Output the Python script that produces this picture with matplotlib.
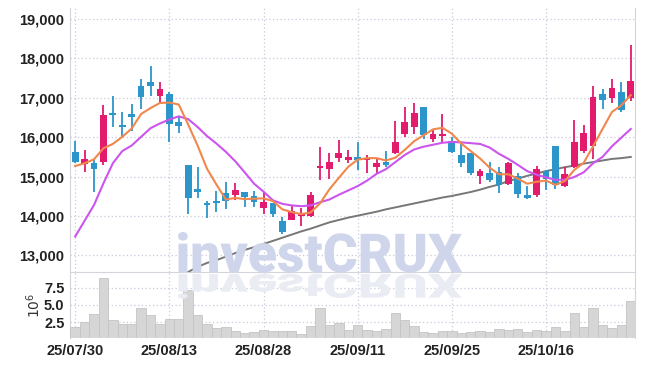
import numpy as np
import matplotlib
matplotlib.use("Agg")
import matplotlib.pyplot as plt
from matplotlib.textpath import TextPath
from matplotlib.patches import PathPatch
from matplotlib.font_manager import FontProperties
from matplotlib.transforms import Affine2D

# daily candles (KRW)
dates = ["25/07/30", "25/07/31", "25/08/01", "25/08/04", "25/08/05", "25/08/06", "25/08/07", "25/08/08",
         "25/08/11", "25/08/12", "25/08/13", "25/08/14", "25/08/18", "25/08/19", "25/08/20", "25/08/21",
         "25/08/22", "25/08/25", "25/08/26", "25/08/27", "25/08/28", "25/08/29", "25/09/01", "25/09/02",
         "25/09/03", "25/09/04", "25/09/05", "25/09/08", "25/09/09", "25/09/10", "25/09/11", "25/09/12",
         "25/09/15", "25/09/16", "25/09/17", "25/09/18", "25/09/19", "25/09/22", "25/09/23", "25/09/24",
         "25/09/25", "25/09/26", "25/09/29", "25/09/30", "25/10/01", "25/10/02", "25/10/10", "25/10/13",
         "25/10/14", "25/10/15", "25/10/16", "25/10/17", "25/10/20", "25/10/21", "25/10/22", "25/10/23",
         "25/10/24", "25/10/27", "25/10/28", "25/10/29"]

opens = [15630, 15330, 15350, 15380, 16620, 16310, 16600, 17300, 17410, 17050,
         17100, 16390, 15290, 14690, 14310, 14350, 14580, 14540, 14610, 14500,
         14210, 14320, 13870, 13910, 14010, 14000, 15220, 15190, 15480, 15420,
         15500, 15420, 15240, 15370, 15590, 16090, 16250, 16770, 15960, 16040,
         15900, 15540, 15590, 15020, 15080, 15110, 14820, 15020, 14530, 14540,
         15140, 15780, 14770, 15240, 15660, 15780, 17100, 17000, 17150, 17000]
highs = [15900, 15680, 15420, 16820, 17050, 16650, 16840, 17470, 17810, 17390,
         17160, 16540, 15300, 15240, 14380, 14640, 14870, 14850, 14620, 14630,
         14600, 14330, 13970, 14280, 14200, 14620, 15760, 15590, 15930, 15680,
         15870, 15550, 15440, 15660, 16420, 16760, 16860, 16780, 16180, 16580,
         16010, 15830, 15600, 15190, 15380, 15250, 15370, 15100, 14760, 15270,
         15170, 15790, 15240, 16440, 16310, 17300, 17220, 17480, 17390, 18340]
lows = [15350, 15110, 14620, 15300, 16270, 16010, 16170, 16720, 17050, 16840,
        15880, 16100, 14040, 14450, 13940, 14110, 14170, 14400, 14220, 14240,
        14050, 13970, 13540, 13890, 13760, 13970, 14910, 14940, 15380, 15340,
        15170, 15100, 15080, 15240, 15570, 16010, 16080, 15950, 15890, 15850,
        15590, 15240, 15040, 14810, 14870, 14580, 14800, 14450, 14420, 14490,
        14660, 14680, 14740, 15230, 15610, 15440, 16710, 16860, 16650, 16920]
closes = [15380, 15450, 15190, 16560, 16570, 16270, 16520, 17030, 17300, 17220,
          16340, 16280, 14470, 14620, 14290, 14330, 14390, 14650, 14480, 14360,
          14350, 14060, 13600, 14140, 14090, 14530, 15250, 15370, 15600, 15500,
          15420, 15470, 15340, 15300, 15880, 16390, 16610, 16060, 16080, 16060,
          15630, 15350, 15100, 15150, 14910, 14790, 15350, 14570, 14470, 15190,
          14940, 14780, 15070, 15880, 16110, 17030, 16940, 17260, 16690, 17430]

# moving averages as drawn
ma5 = [15270, 15340, 15440, 15720, 15830, 16010, 16220, 16590, 16740, 16870,
       16880, 16830, 16320, 15790, 15200, 14800, 14420, 14460, 14430, 14440,
       14450, 14380, 14170, 14100, 14050, 14090, 14320, 14680, 14970, 15250,
       15430, 15470, 15470, 15410, 15480, 15680, 15900, 16050, 16200, 16240,
       16090, 15840, 15650, 15460, 15230, 15060, 15060, 14950, 14820, 14870,
       14900, 14790, 14890, 15170, 15350, 15770, 16210, 16640, 16810, 17070]
ma10 = [13480, 13880, 14280, 14830, 15340, 15650, 15790, 16010, 16230, 16350,
        16450, 16530, 16460, 16260, 16030, 15840, 15630, 15390, 15110, 14820,
        14620, 14400, 14310, 14270, 14250, 14270, 14350, 14420, 14540, 14650,
        14760, 14900, 15070, 15190, 15370, 15550, 15690, 15760, 15810, 15860,
        15880, 15870, 15850, 15830, 15740, 15580, 15450, 15300, 15140, 15050,
        14980, 14920, 14920, 14990, 15110, 15340, 15500, 15770, 15990, 16210]
ma60 = [np.nan] * 11 + [
        12460, 12580, 12710, 12810, 12880, 12970, 13060, 13140, 13210,
        13290, 13370, 13450, 13530, 13610, 13680, 13760, 13840, 13900, 13960,
        14010, 14060, 14110, 14170, 14220, 14270, 14320, 14370, 14420, 14470,
        14510, 14560, 14610, 14670, 14740, 14800, 14890, 14950, 15020, 15080,
        15140, 15190, 15240, 15280, 15330, 15370, 15410, 15450, 15470, 15500]

# volume in millions of shares
volume = [1.78, 2.50, 3.65, 8.85, 2.78, 2.21, 2.21, 4.52, 3.51, 2.21,
          2.93, 2.93, 7.11, 3.51, 2.21, 1.63, 1.78, 1.20, 0.91, 1.05,
          1.34, 1.20, 1.20, 1.20, 0.76, 1.92, 4.52, 2.06, 2.35, 1.34,
          2.06, 1.34, 1.20, 1.49, 3.80, 2.78, 1.92, 1.05, 0.91, 1.20,
          1.20, 0.91, 1.05, 1.20, 1.05, 1.49, 1.34, 1.49, 1.05, 1.34,
          1.20, 1.78, 1.20, 3.80, 1.78, 4.52, 2.06, 1.63, 2.06, 5.53]

price_ticks = [13000, 14000, 15000, 16000, 17000, 18000, 19000]
vol_ticks = [2.5, 5.0, 7.5]
date_ticks = [0, 10, 20, 30, 40, 50]

UP = "#e31b6d"
DOWN = "#2c95c9"
GRID = "#c9c9de"
SPINE = "#d4d4dc"

plt.rcParams["font.family"] = ["Liberation Sans Narrow", "Liberation Sans", "DejaVu Sans"]

fig = plt.figure(figsize=(6.45, 3.66), dpi=100)
ax = fig.add_axes([70 / 645, 94 / 366, 565 / 645, 264 / 366])
axv = fig.add_axes([70 / 645, 28 / 366, 565 / 645, 66 / 366], sharex=ax)

x = np.arange(len(closes))
o = np.array(opens)
c = np.array(closes)
up = c >= o
colors = np.where(up, UP, DOWN)

# watermark and its reflection
fp = FontProperties(family=["Roboto", "DejaVu Sans"], weight="black")
tp = TextPath((0, 0), "investCRUX", size=100, prop=fp)
ext = tp.get_extents()
sx = 284 / ext.width
sy = 40 / ext.y1
wm = Affine2D().translate(-ext.x0, 0).scale(sx / 645, sy / 366).translate(178 / 645, 94 / 366)
fig.patches.append(PathPatch(tp, transform=wm + fig.transFigure, facecolor="#cfd5ea",
                             edgecolor="none", zorder=0.5))
refl = Affine2D().translate(-ext.x0, 0).scale(sx / 645, -0.62 * sy / 366).translate(178 / 645, 92 / 366)
fig.patches.append(PathPatch(tp, transform=refl + fig.transFigure, facecolor="#eaecf4",
                             edgecolor="none", zorder=0.4))
ax.patch.set_alpha(0)
axv.patch.set_alpha(0)

# candles
ax.vlines(x, lows, highs, colors=colors, linewidth=1.3, zorder=3)
body_h = np.maximum(np.abs(c - o), 45)
ax.bar(x, body_h, bottom=np.minimum(o, c), width=0.72, color=colors, zorder=4)

ax.plot(x, ma60, color="#777777", linewidth=1.4, zorder=2)
ax.plot(x, ma10, color="#cc55ee", linewidth=1.5, zorder=5)
ax.plot(x, ma5, color="#f0884c", linewidth=1.5, zorder=6)

ax.set_ylim(12580, 19280)
ax.set_xlim(-0.55, 59.45)
ax.set_yticks(price_ticks)
ax.set_yticklabels([f"{t:,}" for t in price_ticks])
ax.grid(True, color=GRID, linestyle=(0, (1, 2)), linewidth=0.9)
ax.tick_params(axis="both", length=0, labelsize=10.5, colors="#222222", pad=4)
ax.tick_params(axis="x", labelbottom=False)
ax.set_xticks(date_ticks)
ax.spines["top"].set_visible(False)
ax.spines["left"].set_color(SPINE)
ax.spines["right"].set_color(SPINE)
ax.spines["bottom"].set_color(SPINE)
for lab in ax.get_yticklabels():
    lab.set_fontweight("bold")

# volume
axv.bar(x, volume, width=1.0, color="#d6d6d6", edgecolor="#c4c4c4", linewidth=0.6, zorder=3)
axv.set_ylim(0.23, 9.75)
axv.set_yticks(vol_ticks)
axv.set_yticklabels([f"{t:.1f}" for t in vol_ticks])
axv.set_xticks(date_ticks)
axv.set_xticklabels([dates[i] for i in date_ticks])
axv.grid(True, color=GRID, linestyle=(0, (1, 2)), linewidth=0.9)
axv.tick_params(axis="both", length=0, labelsize=10.5, colors="#222222", pad=4)
axv.spines["top"].set_visible(False)
axv.spines["bottom"].set_visible(False)
axv.spines["left"].set_color(SPINE)
axv.spines["right"].set_color(SPINE)
axv.set_ylabel(r"$10^6$", fontsize=10, color="#333333", labelpad=1)
for lab in axv.get_yticklabels() + axv.get_xticklabels():
    lab.set_fontweight("bold")

fig.savefig("out.png", dpi=100)
